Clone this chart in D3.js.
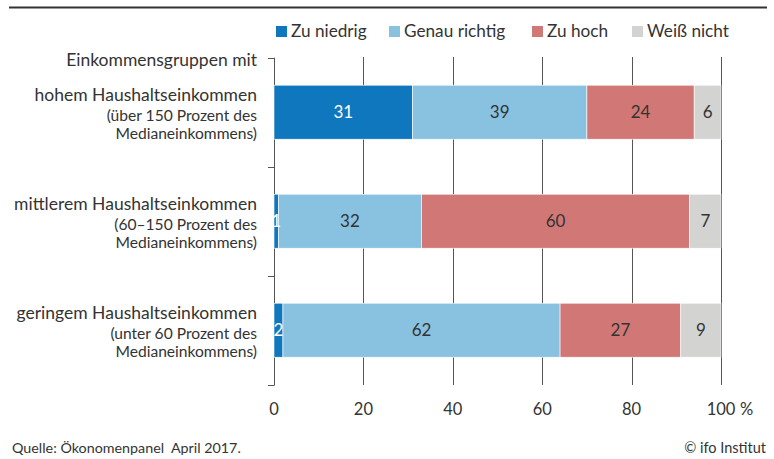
<!DOCTYPE html>
<html><head><meta charset="utf-8">
<script src="https://cdn.jsdelivr.net/npm/d3@7"></script>
<style>
body{margin:0;background:#fff;}
svg{display:block;font-family:Lato,"Noto Sans",sans-serif;}
</style></head>
<body><svg id="chart" width="774" height="459"></svg>
<script>
const categories = ["hoch","mittel","gering"];
const categoryLines = [
  ["hohem Haushaltseinkommen","(über 150 Prozent des","Medianeinkommens)"],
  ["mittlerem Haushaltseinkommen","(60–150 Prozent des","Medianeinkommens)"],
  ["geringem Haushaltseinkommen","(unter 60 Prozent des","Medianeinkommens)"]
];
const seriesNames = ["Zu niedrig","Genau richtig","Zu hoch","Weiß nicht"];
const zuNiedrig   = [31, 1, 2];
const genauRichtig= [39, 32, 62];
const zuHoch      = [24, 60, 27];
const weissNicht  = [6, 7, 9];
const xTicks = [0,20,40,60,80,100];
const colors = ["#0f77bd","#89c1e0","#d17876","#d3d4d1"];
const labelColors = ["#fff","#333","#333","#333"];

const svg = d3.select("#chart");
const textColor = "#333";

// top rule
svg.append("line").attr("x1",9).attr("x2",767).attr("y1",7.5).attr("y2",7.5)
  .attr("stroke","#333").attr("stroke-width",2);

const x = d3.scaleLinear().domain([0,100]).range([274,721]);
const y = d3.scaleBand().domain(categories).range([57.7,384.7]).paddingInner(0.5).paddingOuter(0.25);

// gridlines
svg.append("g").selectAll("line").data(xTicks.slice(1)).join("line")
  .attr("x1",d=>Math.round(x(d))+0.5).attr("x2",d=>Math.round(x(d))+0.5)
  .attr("y1",57).attr("y2",385).attr("stroke","#555").attr("stroke-width",1);

// y axis with ticks at band boundaries
const yAxisG = svg.append("g");
yAxisG.append("line").attr("x1",274.5).attr("x2",274.5).attr("y1",57.7).attr("y2",385.2)
  .attr("stroke","#555");
const bounds = [57.7,166.7,275.7,384.7];
yAxisG.selectAll("line.t").data(bounds).join("line").attr("class","t")
  .attr("x1",268).attr("x2",274.5).attr("y1",d=>Math.round(d)+0.5).attr("y2",d=>Math.round(d)+0.5)
  .attr("stroke","#555");

// stacked data
const rows = categories.map((c,i)=>({cat:c, vals:[zuNiedrig[i],genauRichtig[i],zuHoch[i],weissNicht[i]]}));
const stackData = rows.map(r=>{const o={cat:r.cat}; seriesNames.forEach((s,j)=>o[s]=r.vals[j]); return o;});
const stacked = d3.stack().keys(seriesNames)(stackData);

const bh = 54;
const gs = svg.append("g").selectAll("g").data(stacked).join("g")
  .attr("fill",(d,i)=>colors[i]);
gs.selectAll("rect").data(d=>d).join("rect")
  .attr("x",d=>x(d[0])).attr("width",d=>x(d[1])-x(d[0]))
  .attr("y",d=>y(d.data.cat)+y.bandwidth()/2-bh/2).attr("height",bh)
  .attr("stroke","#fff").attr("stroke-width",0.6);

// value labels
stacked.forEach((s,i)=>{
  svg.append("g").selectAll("text").data(s).join("text")
    .attr("x",d=>(x(d[0])+x(d[1]))/2)
    .attr("y",d=>y(d.data.cat)+y.bandwidth()/2+6)
    .attr("text-anchor","middle").attr("font-size",17).attr("fill",labelColors[i])
    .text(d=>d[1]-d[0]);
});

// category labels
const offsets = [-11, 9, 27];
const sizes = [17.5, 15.6, 15.6];
categories.forEach((c,i)=>{
  const cy = y(c)+y.bandwidth()/2;
  categoryLines[i].forEach((ln,k)=>{
    svg.append("text").attr("x",257).attr("y",cy+offsets[k])
      .attr("text-anchor","end").attr("font-size",sizes[k]).attr("fill",textColor).text(ln);
  });
});
svg.append("text").attr("x",257).attr("y",66).attr("text-anchor","end")
  .attr("font-size",17.5).attr("fill",textColor).text("Einkommensgruppen mit");

// x tick labels
svg.append("g").selectAll("text").data(xTicks).join("text")
  .attr("x",d=>x(d)).attr("y",415).attr("text-anchor","middle")
  .attr("font-size",16.5).attr("fill",textColor).text(d=>d);
svg.append("text").attr("x",740).attr("y",415).attr("font-size",16.5).attr("fill",textColor).text("%");

// legend
const legendX = [276,389,532,632];
const lg = svg.append("g").selectAll("g").data(seriesNames).join("g")
  .attr("transform",(d,i)=>`translate(${legendX[i]},26)`);
lg.append("rect").attr("width",11).attr("height",11).attr("fill",(d,i)=>colors[i]);
lg.append("text").attr("x",15).attr("y",11).attr("font-size",17.2).attr("fill",textColor).text(d=>d);

// footer
svg.append("text").attr("x",12).attr("y",453).attr("font-size",14.3).attr("fill",textColor)
  .attr("xml:space","preserve").text("Quelle: Ökonomenpanel  April 2017.");
svg.append("text").attr("x",766).attr("y",453).attr("text-anchor","end").attr("font-size",14.5)
  .attr("fill",textColor).text("© ifo Institut");
</script></body></html>
